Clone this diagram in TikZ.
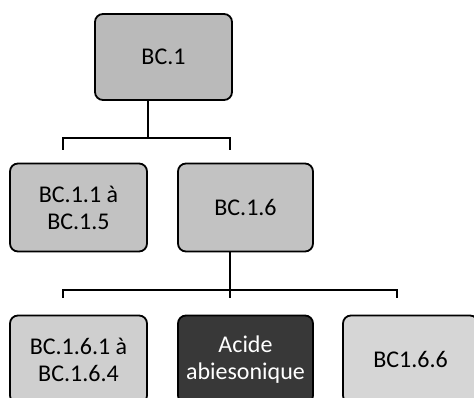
\documentclass[tikz,border=0pt]{standalone}
\usepackage{fontspec}
\setmainfont{Carlito}
\begin{document}
\begin{tikzpicture}[x=1pt,y=-1pt,
  box/.style={draw=black,line width=1.8pt,rounded corners=8pt,
    minimum height=88pt,align=center,inner sep=0pt,
    font=\fontsize{24}{27}\selectfont},
  link/.style={draw=black,line width=1.8pt}]
\useasboundingbox (0,0) rectangle (474,398);
\clip (0,0) rectangle (474,398);

% level 1
\node[box,fill=black!27,minimum width=137pt,minimum height=86pt] (bc1) at (163.5,57) {BC.1};

% level 2
\node[box,fill=black!24,minimum width=137pt] (bc11) at (78.5,207.5) {BC.1.1 à\\BC.1.5};
\node[box,fill=black!24,minimum width=135pt] (bc16) at (245.5,207.5) {BC.1.6};

% level 3
\node[box,fill=black!19,minimum width=137pt] (bc161) at (78.5,359.5) {BC.1.6.1 à\\BC.1.6.4};
\node[box,fill=black!78,text=white,minimum width=135pt] (acide) at (245.5,359.5) {Acide\\abiesonique};
\node[box,fill=black!16,minimum width=135pt] (bc166) at (410.5,359.5) {BC1.6.6};

% bracket below BC.1
\coordinate (j1) at (148,138);
\coordinate (t1a) at (63,150);
\coordinate (t1b) at (230,150);
\draw[link] (bc1.south -| j1) -- (j1);
\draw[link] (t1a) -- (t1a |- j1) -- (t1b |- j1) -- (t1b);

% bracket below BC.1.6
\coordinate (j2) at (230,290);
\coordinate (t2a) at (63,298);
\coordinate (t2b) at (230,298);
\coordinate (t2c) at (397,298);
\draw[link] (bc16.south -| j2) -- (j2);
\draw[link] (t2a) -- (t2a |- j2) -- (t2c |- j2) -- (t2c);
\draw[link] (j2) -- (t2b);
\end{tikzpicture}
\end{document}
